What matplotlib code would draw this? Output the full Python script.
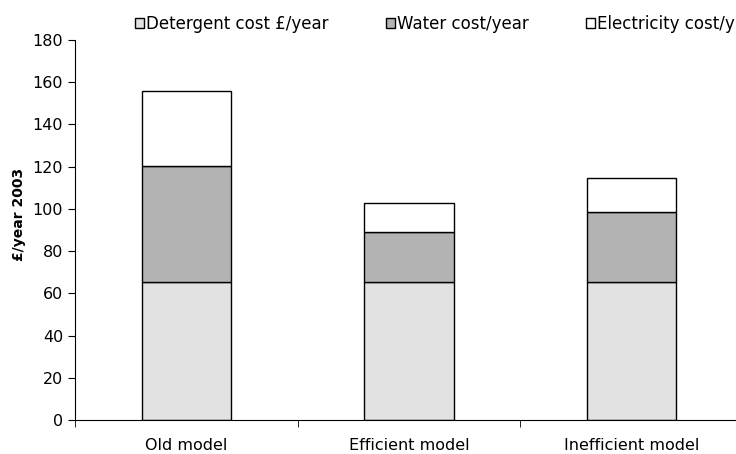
import matplotlib.pyplot as plt
import numpy as np

models = ['Old model', 'Efficient model', 'Inefficient model']
detergent = [65.5, 65.5, 65.5]
water = [55, 23.5, 33]
electricity = [35.5, 14, 16]
series_labels = ['Detergent cost £/year', 'Water cost/year', 'Electricity cost/y']

plt.rcParams['font.family'] = ['DejaVu Sans']
plt.rcParams['font.size'] = 11.5

fig = plt.figure(figsize=(7.36, 4.54), dpi=100)
ax = fig.add_axes([75/736, 34/454, 1 - 75/736, 380/454])

x = np.arange(len(models))
w = 0.4
bottom2 = np.array(detergent) + np.array(water)
b1 = ax.bar(x, detergent, w, color='#e2e2e2', edgecolor='black', linewidth=1, label=series_labels[0])
b2 = ax.bar(x, water, w, bottom=detergent, color='#b3b3b3', edgecolor='black', linewidth=1, label=series_labels[1])
b3 = ax.bar(x, electricity, w, bottom=bottom2, color='white', edgecolor='black', linewidth=1, label=series_labels[2])

ax.set_ylim(0, 180)
ax.set_yticks(range(0, 181, 20))
ax.set_xlim(-0.5, 2.5 - 7/222.7)
ax.set_xticks(x)
ax.set_xticklabels(models)
ax.set_xticks([-0.5, 0.5, 1.5], minor=True)
ax.tick_params(axis='x', which='major', length=0, pad=13)
ax.tick_params(axis='x', which='minor', length=5, direction='out')
ax.tick_params(axis='y', length=5, direction='out')
ax.spines['top'].set_visible(False)
ax.spines['right'].set_visible(False)
ax.set_ylabel('£/year 2003', fontweight='bold', fontsize=10)
ax.yaxis.set_label_coords(-0.074, 0.54)

fig.legend(handles=[b1, b2, b3], loc='upper left', bbox_to_anchor=(123/736, 1 - 3/454),
           ncol=3, frameon=False, fontsize=12, handlelength=0.55, handleheight=0.55,
           handletextpad=0.15, columnspacing=3.4, borderaxespad=0.3)

fig.savefig('out.png', dpi=100)
